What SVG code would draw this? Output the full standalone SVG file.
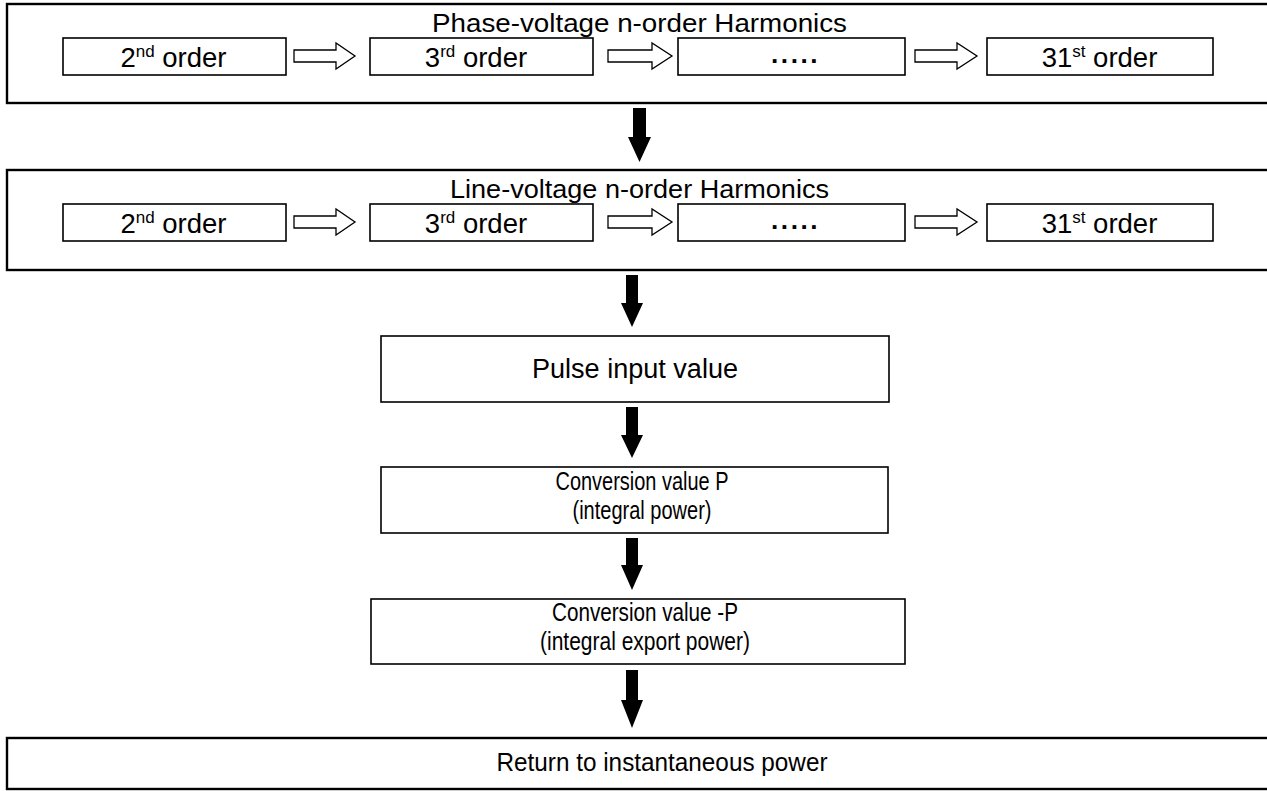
<svg xmlns="http://www.w3.org/2000/svg" width="1267" height="791" viewBox="0 0 1267 791">
<style>
.outer{fill:#fff;stroke:#000;stroke-width:2.4}
.inner{fill:#fff;stroke:#000;stroke-width:1.6}
.t{font-family:"Liberation Sans",Arial,sans-serif;fill:#000;text-anchor:middle}
.big{font-size:25px}
.ord{font-size:27.5px}
.sup{font-size:17px}
.dots{font-size:26px;font-weight:bold}
.hollow{fill:#fff;stroke:#000;stroke-width:1.3}
.solid{fill:#000;stroke:none}
</style>
<rect width="1267" height="791" fill="#fff"/>

<g id="phase">
<rect class="outer" x="7" y="4" width="1270" height="99"/>
<text class="t big" x="639.5" y="32" textLength="415" lengthAdjust="spacingAndGlyphs">Phase-voltage n-order Harmonics</text>
<g id="p2"><rect class="inner" x="63" y="38" width="223" height="37"/><text class="t ord" x="173.5" y="67">2<tspan class="sup" dy="-10">nd</tspan><tspan dy="10"> order</tspan></text></g>
<g id="p3"><rect class="inner" x="370" y="38" width="223" height="37"/><text class="t ord" x="476" y="67">3<tspan class="sup" dy="-10">rd</tspan><tspan dy="10"> order</tspan></text></g>
<g id="pdots"><rect class="inner" x="678" y="38" width="227" height="37"/><text class="t dots" x="795" y="70" textLength="48" lengthAdjust="spacing">·····</text></g>
<g id="p31"><rect class="inner" x="987" y="38" width="226" height="37"/><text class="t ord" x="1099.5" y="67">31<tspan class="sup" dy="-10">st</tspan><tspan dy="10"> order</tspan></text></g>
</g>

<g id="line">
<rect class="outer" x="7" y="170" width="1270" height="100"/>
<text class="t big" x="639.5" y="198" textLength="379" lengthAdjust="spacingAndGlyphs">Line-voltage n-order Harmonics</text>
<g id="l2"><rect class="inner" x="63" y="204" width="223" height="37"/><text class="t ord" x="173.5" y="233">2<tspan class="sup" dy="-10">nd</tspan><tspan dy="10"> order</tspan></text></g>
<g id="l3"><rect class="inner" x="370" y="204" width="223" height="37"/><text class="t ord" x="476" y="233">3<tspan class="sup" dy="-10">rd</tspan><tspan dy="10"> order</tspan></text></g>
<g id="ldots"><rect class="inner" x="678" y="204" width="227" height="37"/><text class="t dots" x="795" y="236" textLength="48" lengthAdjust="spacing">·····</text></g>
<g id="l31"><rect class="inner" x="987" y="204" width="226" height="37"/><text class="t ord" x="1099.5" y="233">31<tspan class="sup" dy="-10">st</tspan><tspan dy="10"> order</tspan></text></g>
</g>

<g id="pulse">
<rect class="inner" x="381" y="336" width="508" height="66"/>
<text class="t" font-size="27" x="635" y="378" textLength="206" lengthAdjust="spacingAndGlyphs">Pulse input value</text>
</g>

<g id="convP">
<rect class="inner" x="381" y="467" width="507" height="66"/>
<text class="t big" x="642" y="490" textLength="173" lengthAdjust="spacingAndGlyphs">Conversion value P</text>
<text class="t big" x="642" y="519" textLength="139" lengthAdjust="spacingAndGlyphs">(integral power)</text>
</g>

<g id="convNP">
<rect class="inner" x="371" y="599" width="534" height="65"/>
<text class="t big" x="645" y="621" textLength="186" lengthAdjust="spacingAndGlyphs">Conversion value -P</text>
<text class="t big" x="645" y="650" textLength="210" lengthAdjust="spacingAndGlyphs">(integral export power)</text>
</g>

<g id="ret">
<rect class="outer" x="7" y="738" width="1270" height="51"/>
<text class="t big" x="662" y="771" textLength="331" lengthAdjust="spacingAndGlyphs">Return to instantaneous power</text>
</g>

<g id="connectors">
<polygon class="hollow" points="294,50 336,50 336,43 355,56 336,69 336,62 294,62"/>
<polygon class="hollow" points="608,50 652,50 652,43 672,56 652,69 652,62 608,62"/>
<polygon class="hollow" points="915,50 957,50 957,43 977,56 957,69 957,62 915,62"/>
<polygon class="hollow" points="294,216 336,216 336,209 355,222 336,235 336,228 294,228"/>
<polygon class="hollow" points="608,216 652,216 652,209 672,222 652,235 652,228 608,228"/>
<polygon class="hollow" points="915,216 957,216 957,209 977,222 957,235 957,228 915,228"/>
<polygon class="solid" points="633,108 646,108 646,137 651,137 639.5,162 628,137 633,137"/>
<polygon class="solid" points="626,275 638,275 638,303 643,303 632,327 621,303 626,303"/>
<polygon class="solid" points="626,407 638,407 638,435 643,435 632,458 621,435 626,435"/>
<polygon class="solid" points="626,538 638,538 638,565 643,565 632,590 621,565 626,565"/>
<polygon class="solid" points="626,670 638,670 638,700 643,700 632,728 621,700 626,700"/>
</g>
</svg>
